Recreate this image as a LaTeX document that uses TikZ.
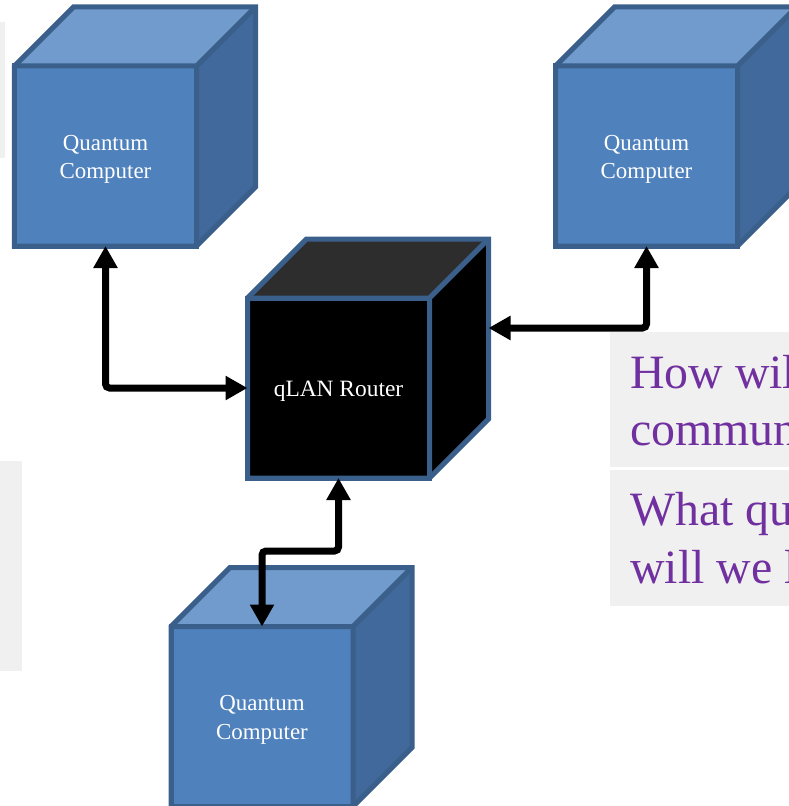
\documentclass[tikz,border=0pt]{standalone}
\usepackage{fontspec}
\setmainfont{Liberation Serif}
\usetikzlibrary{arrows.meta,calc}
\definecolor{qfront}{HTML}{4F81BD}
\definecolor{qtop}{HTML}{719BCC}
\definecolor{qside}{HTML}{41699B}
\definecolor{qedge}{HTML}{3A5F8B}
\definecolor{rtop}{HTML}{2D2D2D}
\definecolor{qpurple}{HTML}{7030A0}
\definecolor{qgrey}{HTML}{F0F0F0}
\tikzset{
  cubefront/.style={draw=qedge, line width=5bp, fill=qfront, minimum width=182bp,
    minimum height=180bp, outer sep=0pt, inner sep=0pt, text=white,
    font=\fontsize{23}{29}\selectfont, text height=16bp, text depth=28bp},
  routerfront/.style={cubefront, fill=black, font=\fontsize{23.5}{29}\selectfont,
    text height=16bp, text depth=0bp},
  face/.style={draw=qedge, line width=5bp, line join=miter},
  conn/.style={line width=7bp, rounded corners=4bp,
    {Triangle[width=23bp,length=22bp]}-{Triangle[width=23bp,length=22bp]}},
  greybox/.style={fill=qgrey},
  question/.style={text=qpurple, font=\fontsize{48}{57}\selectfont, anchor=base west, inner sep=0pt},
}
\newcommand\qlabel[1]{\begin{tabular}[t]{@{}c@{}}#1\end{tabular}}
\newcommand\cubefaces[3]{%
  \fill[#2] (#1.north west) -- ++(59,-59) -- ++(182,0) -- (#1.north east) -- cycle;
  \fill[#3] (#1.north east) -- ++(59,-59) -- ++(0,180) -- (#1.south east) -- cycle;
  \draw[face] (#1.north west) -- ++(59,-59) -- ++(182,0) -- ++(0,180) -- (#1.south east) -- (#1.south west) -- cycle;
  \draw[face] (#1.north west) -- (#1.north east) -- (#1.south east) (#1.north east) -- ++(59,-59);}
\begin{document}
\begin{tikzpicture}[x=1bp,y=-1bp]
\useasboundingbox (0,0) rectangle (789,806);
\clip (0,0) rectangle (789,806);
% grey background boxes
\fill[greybox] (0,22) rectangle (5,158);
\fill[greybox] (0,461) rectangle (22,671);
\fill[greybox] (610,332) rectangle (789,467);
\fill[greybox] (610,470) rectangle (789,606);
\node[question] (q1) at (630,388) {How will};
\node[question] (q2) at (630,445) {communi};
\node[question] (q3) at (630,525) {What qu};
\node[question] (q4) at (630,583) {will we l};
% cubes
\node[cubefront] (tl) at (105.5,156) {\qlabel{Quantum\\Computer}};
\cubefaces{tl}{qtop}{qside}
\node[cubefront] (tr) at (646.5,156) {\qlabel{Quantum\\Computer}};
\cubefaces{tr}{qtop}{qside}
\node[routerfront] (r) at (338.5,388) {qLAN Router};
\cubefaces{r}{rtop}{black}
\node[cubefront] (b) at (262,716.5) {\qlabel{Quantum\\Computer}};
\cubefaces{b}{qtop}{qside}
% connectors
\coordinate (rin) at (488.5,328);
\draw[conn] (tl.south) |- (r.west);
\draw[conn] (tr.south) |- (rin);
\draw[conn] (r.south) -- ++(0,73) -| (b.north);
\end{tikzpicture}
\end{document}
